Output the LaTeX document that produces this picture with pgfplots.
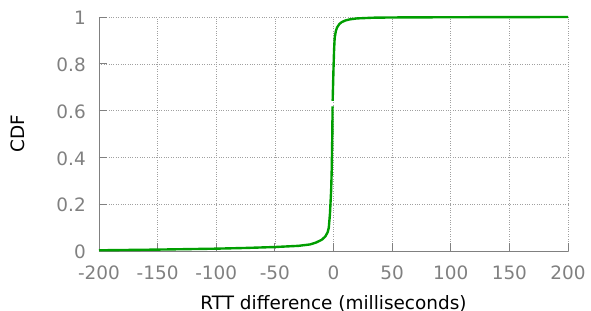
\documentclass[border=0pt]{standalone}
\usepackage{pgfplots}
\pgfplotsset{compat=1.18}
\usepackage{fontspec}
\setmainfont{DejaVu Sans}
\definecolor{cdfgreen}{RGB}{0,158,0}
\definecolor{ticgray}{RGB}{128,128,128}
\definecolor{gridgray}{RGB}{160,160,160}
\begin{document}
\begin{tikzpicture}
\path[use as bounding box] (-99bp,-60bp) rectangle (492bp,251bp);
\begin{axis}[
  at={(0,0)}, anchor=south west,
  scale only axis, width=469bp, height=234bp,
  xmin=-200, xmax=200, ymin=0, ymax=1,
  axis x line*=bottom, axis y line*=left,
  axis line style={ticgray, line width=0.8pt, -},
  xtick={-200,-150,-100,-50,0,50,100,150,200},
  xticklabels={-200,-150,-100,-50,0,50,100,150,200},
  ytick={0,0.2,0.4,0.6,0.8,1},
  yticklabels={0,0.2,0.4,0.6,0.8,1},
  tick style={ticgray, line width=0.8pt},
  major tick length=8bp,
  tick align=inside,
  grid=major,
  major grid style={gridgray, dotted, line width=0.6pt},
  font=\fontsize{18.5}{22}\selectfont,
  xticklabel style={ticgray, anchor=base, inner sep=0pt, yshift=-28.3bp},
  yticklabel style={ticgray, anchor=base east, inner sep=0pt, xshift=-13bp, yshift=-7.7bp},
  xlabel={RTT difference (milliseconds)},
  ylabel={CDF},
  xlabel style={at={(axis description cs:0.5,-0.248)}, anchor=base, inner sep=0pt},
  ylabel style={at={(axis description cs:-0.158,0.5)}, anchor=base, inner sep=0pt},
  clip=false,
]
\addplot[cdfgreen, line width=2.4pt, line join=round] coordinates {
(-200,0.003) (-150,0.006) (-100,0.010) (-75,0.013) (-50,0.017) (-30,0.022)
(-20,0.028) (-15,0.036) (-10,0.048) (-7,0.062) (-5,0.080) (-4,0.100)
(-3,0.160) (-2,0.260) (-1.5,0.350) (-1,0.500) (-0.8,0.618)
};
\addplot[cdfgreen, line width=2.4pt, line join=round] coordinates {
(-0.72,0.642) (0,0.780) (0.5,0.860) (1,0.910) (2,0.940) (3,0.955) (5,0.970)
(7,0.978) (10,0.985) (14,0.990) (20,0.994) (34,0.997) (50,0.998) (100,0.999) (200,1.0)
};
\end{axis}
\end{tikzpicture}
\end{document}
